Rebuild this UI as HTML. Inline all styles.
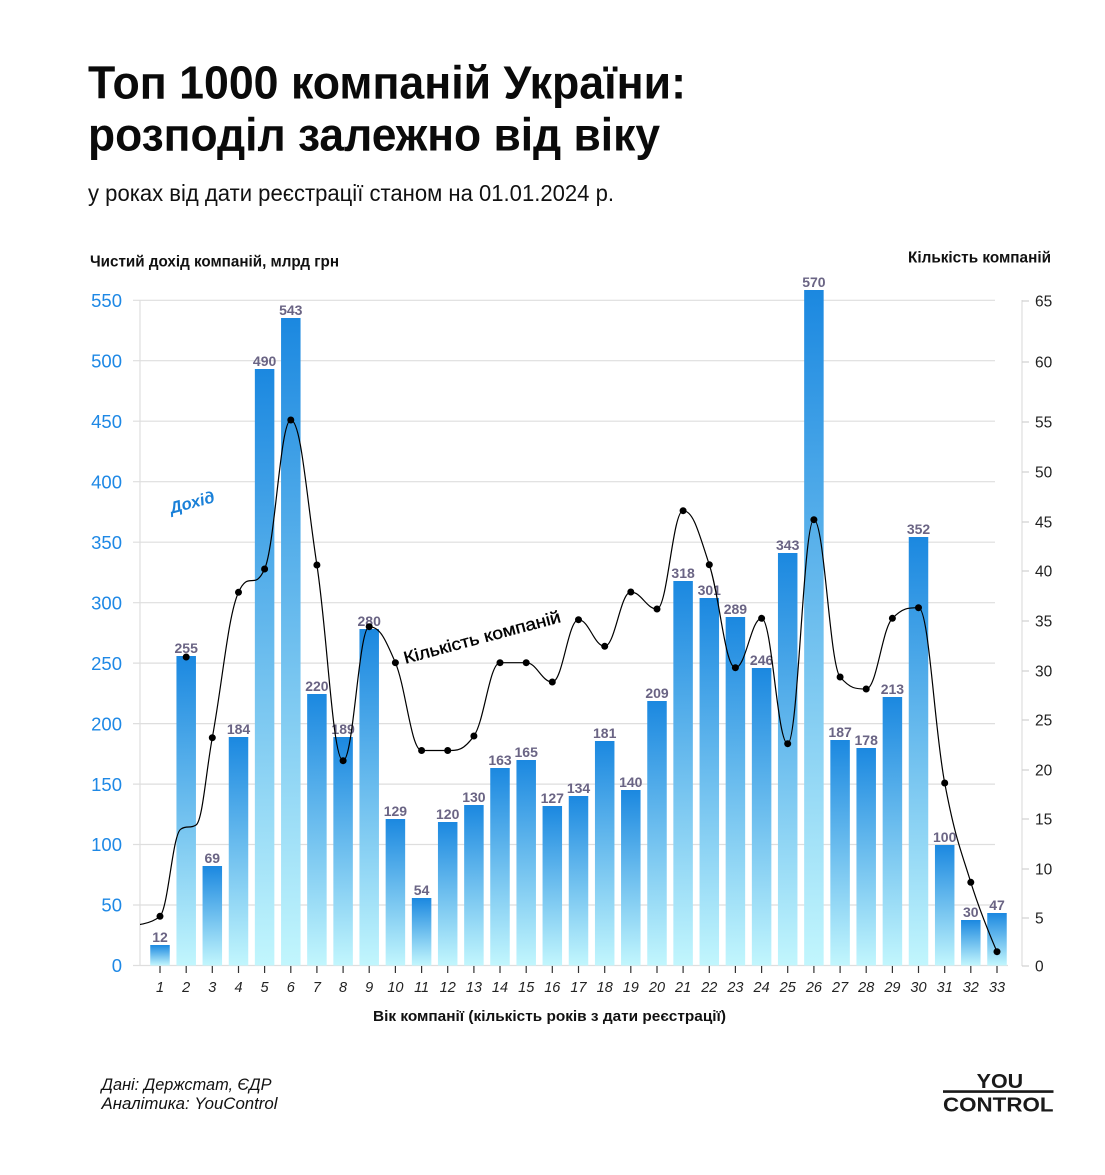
<!DOCTYPE html>
<html><head><meta charset="utf-8">
<style>
html,body{margin:0;padding:0;background:#fff;}
svg{display:block;}
text{font-family:"Liberation Sans","Noto Sans CJK SC",sans-serif;}
</style></head>
<body>
<svg id="c" width="1105" height="1175" viewBox="0 0 1105 1175" xmlns="http://www.w3.org/2000/svg">
<defs>
<linearGradient id="g" x1="0" y1="0" x2="0" y2="1">
<stop offset="0" stop-color="#1b88e0"/>
<stop offset="1" stop-color="#c2f6fd"/>
</linearGradient>
<clipPath id="clipL"><rect x="140" y="250" width="900" height="730"/></clipPath>
</defs>
<rect width="1105" height="1175" fill="#fff"/>

<!-- Titles -->
<text x="88" y="98.5" font-size="46.5" font-weight="bold" fill="#0a0a0a" textLength="598" lengthAdjust="spacingAndGlyphs">Топ 1000 компаній України:</text>
<text x="88" y="150.5" font-size="46.5" font-weight="bold" fill="#0a0a0a" textLength="572" lengthAdjust="spacingAndGlyphs">розподіл залежно від віку</text>
<text x="88" y="201" font-size="23" fill="#111" textLength="526" lengthAdjust="spacingAndGlyphs">у роках від дати реєстрації станом на 01.01.2024 р.</text>

<text x="90" y="266.5" font-size="15.5" font-weight="bold" fill="#111" textLength="249" lengthAdjust="spacingAndGlyphs">Чистий дохід компаній, млрд грн</text>
<text x="908" y="262.5" font-size="15.5" font-weight="bold" fill="#111" textLength="143" lengthAdjust="spacingAndGlyphs">Кількість компаній</text>

<!-- gridlines -->
<g stroke="#dedede" stroke-width="1.2">
<line x1="133" x2="995" y1="300.3" y2="300.3"/>
<line x1="133" x2="995" y1="360.7" y2="360.7"/>
<line x1="133" x2="995" y1="421.2" y2="421.2"/>
<line x1="133" x2="995" y1="481.7" y2="481.7"/>
<line x1="133" x2="995" y1="542.2" y2="542.2"/>
<line x1="133" x2="995" y1="602.7" y2="602.7"/>
<line x1="133" x2="995" y1="663.1" y2="663.1"/>
<line x1="133" x2="995" y1="723.6" y2="723.6"/>
<line x1="133" x2="995" y1="784.1" y2="784.1"/>
<line x1="133" x2="995" y1="844.5" y2="844.5"/>
<line x1="133" x2="995" y1="905" y2="905"/>
<line x1="133" x2="1008" y1="965.5" y2="965.5"/>
<line x1="140" x2="140" y1="300" y2="966"/>
<line x1="1022" x2="1022" y1="300" y2="966"/>
</g>
<!-- right ticks -->
<g stroke="#d0d0d0" stroke-width="1.2">
<line x1="1022" x2="1029" y1="301" y2="301"/>
<line x1="1022" x2="1029" y1="362" y2="362"/>
<line x1="1022" x2="1029" y1="422" y2="422"/>
<line x1="1022" x2="1029" y1="472" y2="472"/>
<line x1="1022" x2="1029" y1="522" y2="522"/>
<line x1="1022" x2="1029" y1="571" y2="571"/>
<line x1="1022" x2="1029" y1="621" y2="621"/>
<line x1="1022" x2="1029" y1="671" y2="671"/>
<line x1="1022" x2="1029" y1="720" y2="720"/>
<line x1="1022" x2="1029" y1="770" y2="770"/>
<line x1="1022" x2="1029" y1="819" y2="819"/>
<line x1="1022" x2="1029" y1="869" y2="869"/>
<line x1="1022" x2="1029" y1="918" y2="918"/>
<line x1="1022" x2="1029" y1="966" y2="966"/>
</g>

<!-- left axis labels -->
<g font-size="18.5" fill="#1e88e5" text-anchor="end">
<text x="122" y="307">550</text>
<text x="122" y="367.4">500</text>
<text x="122" y="427.9">450</text>
<text x="122" y="488.4">400</text>
<text x="122" y="548.9">350</text>
<text x="122" y="609.4">300</text>
<text x="122" y="669.8">250</text>
<text x="122" y="730.3">200</text>
<text x="122" y="790.8">150</text>
<text x="122" y="851.2">100</text>
<text x="122" y="911.7">50</text>
<text x="122" y="972.2">0</text>
</g>
<!-- right axis labels -->
<g font-size="15.5" fill="#222">
<text x="1035" y="306.5">65</text>
<text x="1035" y="367.5">60</text>
<text x="1035" y="427.5">55</text>
<text x="1035" y="477.5">50</text>
<text x="1035" y="527.5">45</text>
<text x="1035" y="576.5">40</text>
<text x="1035" y="626.5">35</text>
<text x="1035" y="676.5">30</text>
<text x="1035" y="725.5">25</text>
<text x="1035" y="775.5">20</text>
<text x="1035" y="824.5">15</text>
<text x="1035" y="874.5">10</text>
<text x="1035" y="923.5">5</text>
<text x="1035" y="971.5">0</text>
</g>

<!-- bars -->
<g fill="url(#g)">
<rect x="150.25" y="945" width="19.5" height="20.5"/>
<rect x="176.45" y="656" width="19.5" height="309.5"/>
<rect x="202.55" y="866" width="19.5" height="99.5"/>
<rect x="228.75" y="737" width="19.5" height="228.5"/>
<rect x="254.85" y="369" width="19.5" height="596.5"/>
<rect x="281.05" y="318" width="19.5" height="647.5"/>
<rect x="307.15" y="694" width="19.5" height="271.5"/>
<rect x="333.35" y="737" width="19.5" height="228.5"/>
<rect x="359.45" y="629" width="19.5" height="336.5"/>
<rect x="385.65" y="819" width="19.5" height="146.5"/>
<rect x="411.85" y="898" width="19.5" height="67.5"/>
<rect x="437.95" y="822" width="19.5" height="143.5"/>
<rect x="464.15" y="805" width="19.5" height="160.5"/>
<rect x="490.25" y="768" width="19.5" height="197.5"/>
<rect x="516.45" y="760" width="19.5" height="205.5"/>
<rect x="542.55" y="806" width="19.5" height="159.5"/>
<rect x="568.75" y="796" width="19.5" height="169.5"/>
<rect x="594.95" y="741" width="19.5" height="224.5"/>
<rect x="621.05" y="790" width="19.5" height="175.5"/>
<rect x="647.25" y="701" width="19.5" height="264.5"/>
<rect x="673.35" y="581" width="19.5" height="384.5"/>
<rect x="699.55" y="598" width="19.5" height="367.5"/>
<rect x="725.65" y="617" width="19.5" height="348.5"/>
<rect x="751.85" y="668" width="19.5" height="297.5"/>
<rect x="777.95" y="553" width="19.5" height="412.5"/>
<rect x="804.15" y="290" width="19.5" height="675.5"/>
<rect x="830.35" y="740" width="19.5" height="225.5"/>
<rect x="856.45" y="748" width="19.5" height="217.5"/>
<rect x="882.65" y="697" width="19.5" height="268.5"/>
<rect x="908.75" y="537" width="19.5" height="428.5"/>
<rect x="934.95" y="845" width="19.5" height="120.5"/>
<rect x="961.05" y="920" width="19.5" height="45.5"/>
<rect x="987.25" y="913" width="19.5" height="52.5"/>
</g>

<!-- bar value labels -->
<g font-size="14" font-weight="bold" fill="#6a6484" text-anchor="middle">
<text x="160" y="942">12</text>
<text x="186.2" y="653">255</text>
<text x="212.3" y="863">69</text>
<text x="238.5" y="734">184</text>
<text x="264.6" y="366">490</text>
<text x="290.8" y="315">543</text>
<text x="316.9" y="691">220</text>
<text x="343.1" y="734">189</text>
<text x="369.2" y="626">280</text>
<text x="395.4" y="816">129</text>
<text x="421.6" y="895">54</text>
<text x="447.7" y="819">120</text>
<text x="473.9" y="802">130</text>
<text x="500" y="765">163</text>
<text x="526.2" y="757">165</text>
<text x="552.3" y="803">127</text>
<text x="578.5" y="793">134</text>
<text x="604.7" y="738">181</text>
<text x="630.8" y="787">140</text>
<text x="657" y="698">209</text>
<text x="683.1" y="578">318</text>
<text x="709.3" y="595">301</text>
<text x="735.4" y="614">289</text>
<text x="761.6" y="665">246</text>
<text x="787.7" y="550">343</text>
<text x="813.9" y="287">570</text>
<text x="840.1" y="737">187</text>
<text x="866.2" y="745">178</text>
<text x="892.4" y="694">213</text>
<text x="918.5" y="534">352</text>
<text x="944.7" y="842">100</text>
<text x="970.8" y="917">30</text>
<text x="997" y="910">47</text>
</g>

<!-- x ticks -->
<g stroke="#333" stroke-width="1.2">
<line x1="160" x2="160" y1="966" y2="973"/>
<line x1="186.2" x2="186.2" y1="966" y2="973"/>
<line x1="212.3" x2="212.3" y1="966" y2="973"/>
<line x1="238.5" x2="238.5" y1="966" y2="973"/>
<line x1="264.6" x2="264.6" y1="966" y2="973"/>
<line x1="290.8" x2="290.8" y1="966" y2="973"/>
<line x1="316.9" x2="316.9" y1="966" y2="973"/>
<line x1="343.1" x2="343.1" y1="966" y2="973"/>
<line x1="369.2" x2="369.2" y1="966" y2="973"/>
<line x1="395.4" x2="395.4" y1="966" y2="973"/>
<line x1="421.6" x2="421.6" y1="966" y2="973"/>
<line x1="447.7" x2="447.7" y1="966" y2="973"/>
<line x1="473.9" x2="473.9" y1="966" y2="973"/>
<line x1="500" x2="500" y1="966" y2="973"/>
<line x1="526.2" x2="526.2" y1="966" y2="973"/>
<line x1="552.3" x2="552.3" y1="966" y2="973"/>
<line x1="578.5" x2="578.5" y1="966" y2="973"/>
<line x1="604.7" x2="604.7" y1="966" y2="973"/>
<line x1="630.8" x2="630.8" y1="966" y2="973"/>
<line x1="657" x2="657" y1="966" y2="973"/>
<line x1="683.1" x2="683.1" y1="966" y2="973"/>
<line x1="709.3" x2="709.3" y1="966" y2="973"/>
<line x1="735.4" x2="735.4" y1="966" y2="973"/>
<line x1="761.6" x2="761.6" y1="966" y2="973"/>
<line x1="787.7" x2="787.7" y1="966" y2="973"/>
<line x1="813.9" x2="813.9" y1="966" y2="973"/>
<line x1="840.1" x2="840.1" y1="966" y2="973"/>
<line x1="866.2" x2="866.2" y1="966" y2="973"/>
<line x1="892.4" x2="892.4" y1="966" y2="973"/>
<line x1="918.5" x2="918.5" y1="966" y2="973"/>
<line x1="944.7" x2="944.7" y1="966" y2="973"/>
<line x1="970.8" x2="970.8" y1="966" y2="973"/>
<line x1="997" x2="997" y1="966" y2="973"/>
</g>
<g font-size="14.5" font-style="italic" fill="#222" text-anchor="middle">
<text x="160" y="992">1</text>
<text x="186.2" y="992">2</text>
<text x="212.3" y="992">3</text>
<text x="238.5" y="992">4</text>
<text x="264.6" y="992">5</text>
<text x="290.8" y="992">6</text>
<text x="316.9" y="992">7</text>
<text x="343.1" y="992">8</text>
<text x="369.2" y="992">9</text>
<text x="395.4" y="992">10</text>
<text x="421.6" y="992">11</text>
<text x="447.7" y="992">12</text>
<text x="473.9" y="992">13</text>
<text x="500" y="992">14</text>
<text x="526.2" y="992">15</text>
<text x="552.3" y="992">16</text>
<text x="578.5" y="992">17</text>
<text x="604.7" y="992">18</text>
<text x="630.8" y="992">19</text>
<text x="657" y="992">20</text>
<text x="683.1" y="992">21</text>
<text x="709.3" y="992">22</text>
<text x="735.4" y="992">23</text>
<text x="761.6" y="992">24</text>
<text x="787.7" y="992">25</text>
<text x="813.9" y="992">26</text>
<text x="840.1" y="992">27</text>
<text x="866.2" y="992">28</text>
<text x="892.4" y="992">29</text>
<text x="918.5" y="992">30</text>
<text x="944.7" y="992">31</text>
<text x="970.8" y="992">32</text>
<text x="997" y="992">33</text>
</g>
<text x="373" y="1021" font-size="15" font-weight="bold" fill="#111" textLength="353" lengthAdjust="spacingAndGlyphs">Вік компанії (кількість років з дати реєстрації)</text>

<!-- count line -->
<path id="ln" clip-path="url(#clipL)" fill="none" stroke="#000" stroke-width="1.2" d="M140,922.7 L160,916.3 L181,829 L196,825 L212.3,737.7 L238.5,592.3 L264.6,569 L290.8,420 L316.9,565 L343.1,760.7 L369.2,626.7 L395.4,662.7 L421.6,750.5 L447.7,750.5 L473.9,736 L500,662.7 L526.2,662.7 L552.3,682 L578.5,619.7 L604.7,646.3 L630.8,592 L657,609 L683.1,510.7 L709.3,564.7 L735.4,667.7 L761.6,618.3 L787.7,743.7 L813.9,519.7 L840.1,677 L866.2,689 L892.4,618.3 L918.5,607.7 L944.7,783 L970.8,882.3 L997,951.7"/>
<g fill="#000">
<circle cx="160" cy="916.3" r="3.5"/>
<circle cx="186.2" cy="657" r="3.5"/>
<circle cx="212.3" cy="737.7" r="3.5"/>
<circle cx="238.5" cy="592.3" r="3.5"/>
<circle cx="264.6" cy="569" r="3.5"/>
<circle cx="290.8" cy="420" r="3.5"/>
<circle cx="316.9" cy="565" r="3.5"/>
<circle cx="343.1" cy="760.7" r="3.5"/>
<circle cx="369.2" cy="626.7" r="3.5"/>
<circle cx="395.4" cy="662.7" r="3.5"/>
<circle cx="421.6" cy="750.5" r="3.5"/>
<circle cx="447.7" cy="750.5" r="3.5"/>
<circle cx="473.9" cy="736" r="3.5"/>
<circle cx="500" cy="662.7" r="3.5"/>
<circle cx="526.2" cy="662.7" r="3.5"/>
<circle cx="552.3" cy="682" r="3.5"/>
<circle cx="578.5" cy="619.7" r="3.5"/>
<circle cx="604.7" cy="646.3" r="3.5"/>
<circle cx="630.8" cy="592" r="3.5"/>
<circle cx="657" cy="609" r="3.5"/>
<circle cx="683.1" cy="510.7" r="3.5"/>
<circle cx="709.3" cy="564.7" r="3.5"/>
<circle cx="735.4" cy="667.7" r="3.5"/>
<circle cx="761.6" cy="618.3" r="3.5"/>
<circle cx="787.7" cy="743.7" r="3.5"/>
<circle cx="813.9" cy="519.7" r="3.5"/>
<circle cx="840.1" cy="677" r="3.5"/>
<circle cx="866.2" cy="689" r="3.5"/>
<circle cx="892.4" cy="618.3" r="3.5"/>
<circle cx="918.5" cy="607.7" r="3.5"/>
<circle cx="944.7" cy="783" r="3.5"/>
<circle cx="970.8" cy="882.3" r="3.5"/>
<circle cx="997" cy="951.7" r="3.5"/>
</g>

<!-- annotations -->
<text x="192" y="508" font-size="16.5" font-weight="bold" font-style="italic" fill="#1a80d8" text-anchor="middle" transform="rotate(-15 192 502)">Дохід</text>
<text x="482" y="643" font-size="17" fill="#000" stroke="#000" stroke-width="0.35" text-anchor="middle" textLength="162" lengthAdjust="spacingAndGlyphs" transform="rotate(-15 482 637)">Кількість компаній</text>

<!-- footer -->
<text x="101.5" y="1090" font-size="17" font-style="italic" fill="#111" textLength="170" lengthAdjust="spacingAndGlyphs">Дані: Держстат, ЄДР</text>
<text x="101.5" y="1109" font-size="17" font-style="italic" fill="#111" textLength="176" lengthAdjust="spacingAndGlyphs">Аналітика: YouControl</text>

<!-- logo -->
<text x="976.7" y="1088" font-size="20.5" font-weight="bold" fill="#1a1a1a" textLength="46.5" lengthAdjust="spacingAndGlyphs">YOU</text>
<line x1="943" x2="1053.5" y1="1091.6" y2="1091.6" stroke="#1a1a1a" stroke-width="2.6"/>
<text x="943" y="1111.7" font-size="20.5" font-weight="bold" fill="#1a1a1a" textLength="110.5" lengthAdjust="spacingAndGlyphs">CONTROL</text>
</svg>
<script>
(function(){
var P=[[133.8,925],[160,916.3],[181,829],[196,825],[212.3,737.7],[238.5,592.3],[264.6,569],[290.8,420],[316.9,565],[343.1,760.7],[369.2,626.7],[395.4,662.7],[421.6,750.5],[447.7,750.5],[473.9,736],[500,662.7],[526.2,662.7],[552.3,682],[578.5,619.7],[604.7,646.3],[630.8,592],[657,609],[683.1,510.7],[709.3,564.7],[735.4,667.7],[761.6,618.3],[787.7,743.7],[813.9,519.7],[840.1,677],[866.2,689],[892.4,618.3],[918.5,607.7],[944.7,783],[970.8,882.3],[997,951.7]];
var n=P.length,L=[],R=[];
for(var i=0;i<n;i++){
 var p=P[i];
 if(i==0||i==n-1){L[i]=[p[0],p[1]];R[i]=[p[0],p[1]];continue;}
 var a=P[i-1],b=P[i+1],sm=1.5,den=2.5;
 var lx=(sm*p[0]+a[0])/den,ly=(sm*p[1]+a[1])/den,rx=(sm*p[0]+b[0])/den,ry=(sm*p[1]+b[1])/den;
 var corr=((ry-ly)*(rx-p[0]))/(rx-lx)+p[1]-ry;ly+=corr;ry+=corr;
 if(ly>a[1]&&ly>p[1]){ly=Math.max(a[1],p[1]);ry=2*p[1]-ly;}else if(ly<a[1]&&ly<p[1]){ly=Math.min(a[1],p[1]);ry=2*p[1]-ly;}
 if(ry>b[1]&&ry>p[1]){ry=Math.max(b[1],p[1]);ly=2*p[1]-ry;}else if(ry<b[1]&&ry<p[1]){ry=Math.min(b[1],p[1]);ly=2*p[1]-ry;}
 L[i]=[lx,ly];R[i]=[rx,ry];
}
var d='M'+P[0][0]+','+P[0][1];
for(var j=1;j<n;j++){d+=' C'+R[j-1][0].toFixed(2)+','+R[j-1][1].toFixed(2)+' '+L[j][0].toFixed(2)+','+L[j][1].toFixed(2)+' '+P[j][0]+','+P[j][1];}
document.getElementById('ln').setAttribute('d',d);
})();
</script>
</body></html>
